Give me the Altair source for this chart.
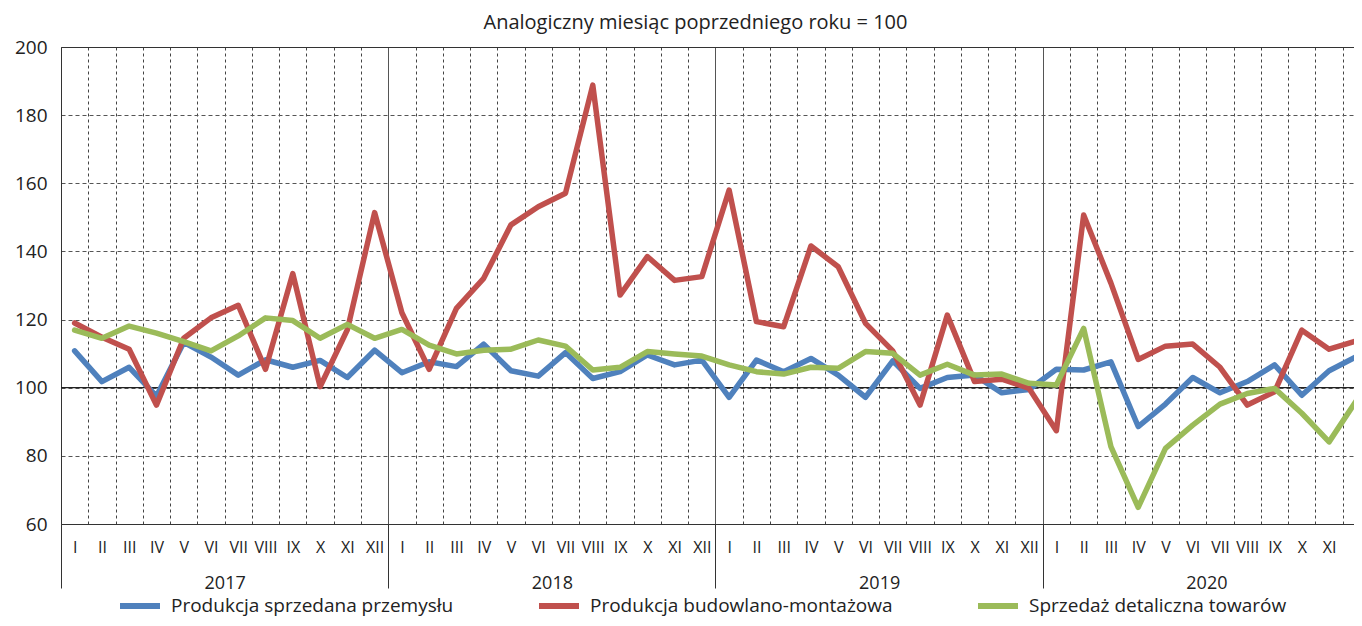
import altair as alt
import pandas as pd

FONT = "Open Sans"

months = ["I", "II", "III", "IV", "V", "VI", "VII", "VIII", "IX", "X", "XI", "XII"]
years = ["2017", "2018", "2019", "2020"]

series_names = [
    "Produkcja sprzedana przemysłu",
    "Produkcja budowlano-montażowa",
    "Sprzedaż detaliczna towarów",
]
series_colors = ["#4F81BD", "#C0504D", "#9BBB59"]

industry = [
    110.8, 101.8, 106.0, 97.5, 113.3, 109.0, 103.7, 108.2, 106.0, 108.0, 103.0, 111.0,
    104.4, 107.6, 106.2, 112.8, 105.0, 103.4, 110.3, 102.7, 104.7, 109.6, 106.7, 108.1,
    97.2, 108.1, 104.7, 108.6, 103.7, 97.2, 107.9, 99.8, 103.0, 103.7, 98.5, 99.5,
    105.4, 105.2, 107.6, 88.6, 95.2, 103.0, 98.5, 101.8, 106.7, 97.8, 105.0, 109.1,
]
construction = [
    119.0, 114.8, 111.3, 94.9, 114.5, 120.5, 124.2, 105.4, 133.5, 100.3, 117.0, 151.4,
    122.0, 105.4, 123.3, 132.1, 147.8, 153.1, 157.1, 188.8, 127.2, 138.5, 131.5, 132.6,
    158.0, 119.4, 117.9, 141.6, 135.5, 118.9, 110.8, 94.9, 121.3, 101.8, 102.5, 99.8,
    87.4, 150.7, 130.7, 108.3, 112.2, 112.8, 106.0, 94.9, 98.8, 116.9, 111.3, 113.7,
]
retail = [
    116.9, 114.5, 118.1, 116.0, 113.5, 110.8, 115.2, 120.5, 119.7, 114.5, 118.6, 114.5,
    117.1, 112.5, 109.9, 111.0, 111.3, 114.0, 112.2, 105.2, 106.0, 110.6, 109.9, 109.3,
    106.7, 104.7, 104.0, 106.0, 105.7, 110.6, 110.1, 103.7, 106.9, 103.7, 104.0, 101.3,
    100.8, 117.4, 82.7, 64.9, 82.2, 89.0, 95.2, 98.3, 99.8, 92.5, 84.1, 96.2,
]
reference_level = [100]
y_ticks = [60, 80, 100, 120, 140, 160, 180, 200]

rows = []
for name, vals in zip(series_names, [industry, construction, retail]):
    for i, v in enumerate(vals):
        rows.append({"t": i, "series": name, "value": v})
df = pd.DataFrame(rows)

n = len(months) * len(years)
month_bounds = [i + 0.5 for i in range(n - 1) if (i + 1) % 12 != 0]
year_bounds = [k * 12 - 0.5 for k in range(len(years))]
year_centers = [k * 12 + 5.5 for k in range(len(years))]

W, H = 1293, 477
STEP = 1309 / n
xscale = alt.Scale(domain=[-0.5, -0.5 + W / STEP], nice=False, zero=False)
yscale = alt.Scale(domain=[60, 200], nice=False, zero=False)

month_js = "[" + ",".join("'%s'" % m for m in months) + "]"
year_js = "[" + ",".join("'%s'" % y for y in years) + "]"

base = alt.Chart(df)

y_axis = alt.Axis(
    values=y_ticks, grid=True, gridDash=[4, 3], gridColor="#555", gridWidth=1,
    ticks=False, domain=True, domainColor="#333", labelPadding=14,
    labelFontSize=19, labelFont=FONT, labelColor="#222", title=None,
)

grid_layer = base.mark_point(opacity=0).encode(
    x=alt.X("t:Q", scale=xscale, axis=alt.Axis(
        orient="bottom", values=month_bounds, grid=True, gridDash=[3, 3],
        gridColor="#444", gridWidth=1, labels=False, ticks=False, domain=False, title=None)),
    y=alt.Y("value:Q", scale=yscale, axis=y_axis),
)

year_layer = base.mark_point(opacity=0).encode(
    x=alt.X("t:Q", scale=xscale, axis=alt.Axis(
        orient="bottom", values=year_bounds, grid=True, gridColor="#555", gridWidth=1,
        labels=False, ticks=True, tickSize=64, tickColor="#333", tickWidth=1,
        domain=False, title=None)),
    y=alt.Y("value:Q", scale=yscale),
)

year_label_layer = base.mark_point(opacity=0).encode(
    x=alt.X("t:Q", scale=xscale, axis=alt.Axis(
        orient="bottom", values=year_centers, grid=False, ticks=False, domain=False,
        labelExpr=year_js + "[floor(datum.value / 12)]", labelPadding=50,
        labelFontSize=18, labelFont=FONT, labelColor="#222", labelFlush=False,
        labelOverlap=False, title=None)),
    y=alt.Y("value:Q", scale=yscale),
)

top_layer = base.mark_point(opacity=0).encode(
    x=alt.X("t:Q", scale=xscale, axis=alt.Axis(
        orient="top", grid=False, ticks=False, labels=False, domain=True,
        domainColor="#333", title=None)),
    y=alt.Y("value:Q", scale=yscale),
)

ref_rule = alt.Chart(pd.DataFrame({"v": reference_level})).mark_rule(
    color="#222", strokeWidth=1.2
).encode(y=alt.Y("v:Q", scale=yscale))

lines = base.mark_line(strokeWidth=5.5, strokeJoin="round", strokeCap="round").encode(
    x=alt.X("t:Q", scale=xscale, axis=alt.Axis(
        orient="bottom", values=list(range(n)), grid=False, ticks=False,
        domain=True, domainColor="#333",
        labelExpr=month_js + "[datum.value % 12]", labelPadding=15,
        labelFontSize=16, labelFont=FONT, labelColor="#222", labelFlush=False,
        labelOverlap=False, title=None)),
    y=alt.Y("value:Q", scale=yscale),
    color=alt.Color("series:N", scale=alt.Scale(domain=series_names, range=series_colors),
                    legend=alt.Legend(
                        orient="none", legendX=56, legendY=536, direction="horizontal",
                        columns=3, title=None, symbolType="stroke", symbolSize=1600,
                        symbolStrokeWidth=6, labelFontSize=19, labelFont=FONT,
                        labelColor="#222", labelOffset=8, columnPadding=73, padding=0,
                        labelLimit=400)),
    order="t:Q",
)

chart = alt.layer(grid_layer, year_layer, year_label_layer, top_layer, ref_rule, lines).resolve_axis(
    x="independent"
).properties(
    width=W, height=H,
    title=alt.TitleParams(
        "Analogiczny miesiąc poprzedniego roku = 100", fontSize=20, font=FONT,
        fontWeight="normal", color="#222", anchor="middle", frame="group", dx=-12, offset=5),
    autosize=alt.AutoSizeParams(type="none"),
    padding={"left": 53, "top": 39, "right": 0, "bottom": 94},
).configure_view(stroke=None)

chart.save("out.html", embed_options={"renderer": "svg", "actions": False})
